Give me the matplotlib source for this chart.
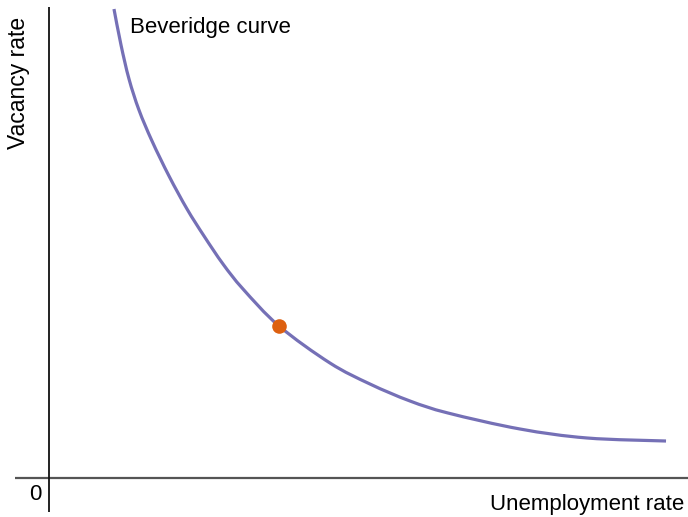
import matplotlib
matplotlib.use("Agg")
import matplotlib.pyplot as plt
import numpy as np
from matplotlib.path import Path
from matplotlib.patches import PathPatch

plt.rcParams['font.family'] = ['Liberation Sans', 'DejaVu Sans']

# Beveridge curve (arbitrary units, 0-100 on both axes)
unemployment = [10.17, 11.27, 12.52, 14.08, 16.12, 18.78, 21.60, 24.26, 27.23,
                30.36, 35.99, 43.97, 50.23, 56.49, 62.44, 73.71, 84.19, 96.56]
vacancy = [99.15, 91.54, 84.36, 77.80, 71.25, 63.85, 56.87, 51.16, 45.24,
           39.96, 32.14, 24.31, 19.87, 16.28, 13.74, 10.36, 8.46, 7.82]

# highlighted point on the curve
point_u = [35.99]
point_v = [32.14]


def smooth_path(xs, ys):
    """Catmull-Rom through the read points, drawn as cubic Bezier segments."""
    p = np.column_stack([xs, ys])
    p = np.vstack([p[0], p, p[-1]])
    verts = [p[1]]
    codes = [Path.MOVETO]
    for i in range(1, len(p) - 2):
        c1 = p[i] + (p[i + 1] - p[i - 1]) / 6
        c2 = p[i + 1] - (p[i + 2] - p[i]) / 6
        verts += [c1, c2, p[i + 1]]
        codes += [Path.CURVE4] * 3
    return Path(verts, codes)


fig = plt.figure(figsize=(6.88, 5.17), dpi=100)
ax = fig.add_axes([49 / 688, 39 / 517, 639 / 688, 473 / 517])
ax.set_xlim(0, 100)
ax.set_ylim(0, 100)
ax.axis('off')

# axes drawn by hand so they can cross past the origin
ax.plot([-0.053, 1.0], [0, 0], transform=ax.transAxes, clip_on=False,
        color='#555555', lw=1.6, solid_capstyle='butt')
ax.plot([0, 0], [-0.072, 0.996], transform=ax.transAxes, clip_on=False,
        color='#111111', lw=1.3, solid_capstyle='butt')

curve = PathPatch(smooth_path(unemployment, vacancy), facecolor='none',
                  edgecolor='#7570b6', lw=2.3, capstyle='butt', clip_on=False)
ax.add_patch(curve)
ax.plot(point_u, point_v, 'o', color='#dd6010', markersize=10.5,
        markeredgewidth=0, clip_on=False, zorder=3)

ax.text(12.7, 95.3, 'Beveridge curve', fontsize=16, ha='left', va='center')
ax.text(0.994, -0.055, 'Unemployment rate', fontsize=16, ha='right',
        va='center', transform=ax.transAxes)
ax.text(-0.022, -0.034, '0', fontsize=16, ha='center', va='center',
        transform=ax.transAxes)
ax.text(-0.048, 0.835, 'Vacancy rate', fontsize=16.5, ha='center', va='center',
        rotation=90, transform=ax.transAxes)

fig.savefig('out.png', dpi=100)
